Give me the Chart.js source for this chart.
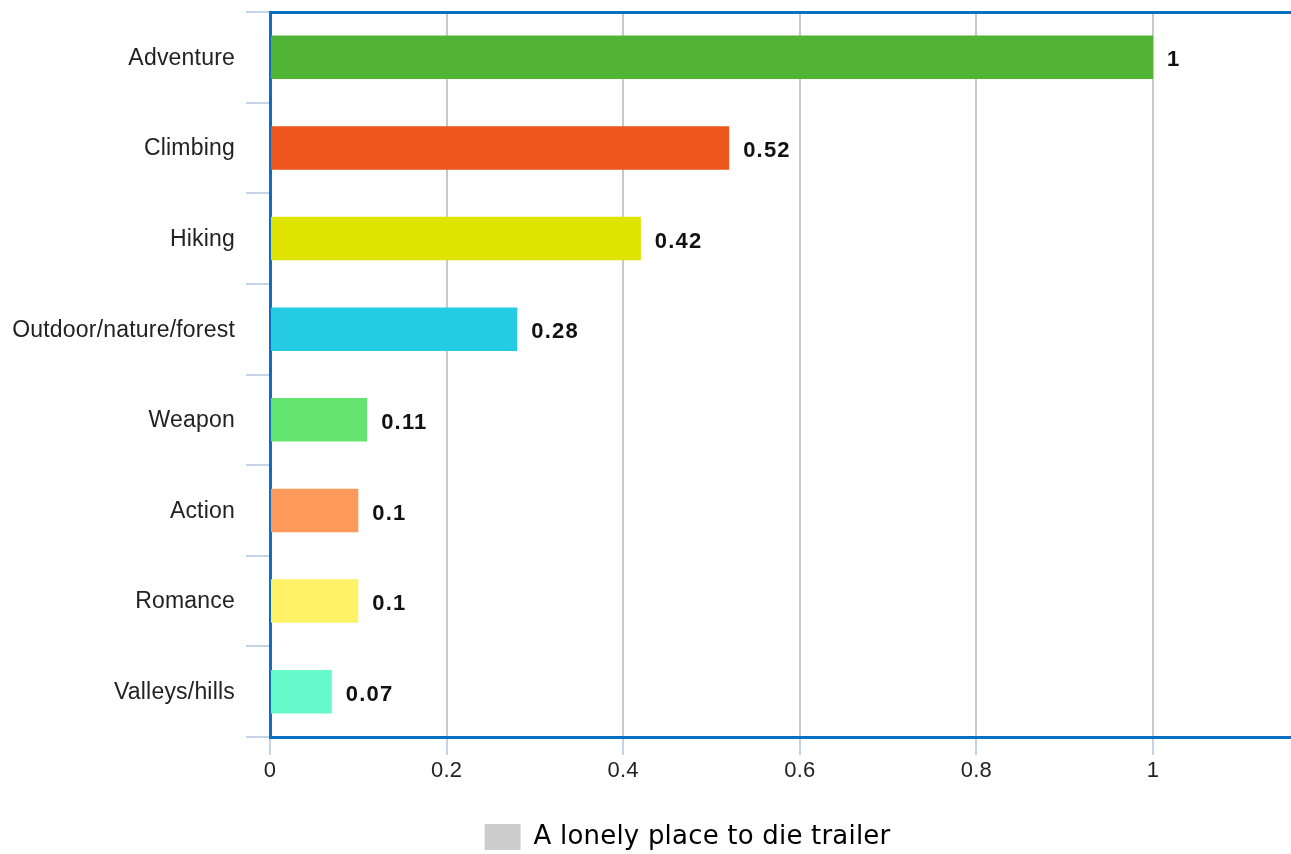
<!DOCTYPE html>
<html>
<head>
<meta charset="utf-8">
<script src="https://cdn.jsdelivr.net/npm/chart.js@4.4.0/dist/chart.umd.min.js"></script>
<style>
  html, body { margin: 0; padding: 0; background: #fff; }
  #wrap { width: 1291px; height: 854px; position: relative; }
</style>
</head>
<body>
<div id="wrap"><canvas id="chart"></canvas></div>
<script>
const categories = ['Adventure', 'Climbing', 'Hiking', 'Outdoor/nature/forest', 'Weapon', 'Action', 'Romance', 'Valleys/hills'];
const values = [1, 0.52, 0.42, 0.28, 0.11, 0.1, 0.1, 0.07];
const barColors = ['#52b434', '#ec561c', '#dfe300', '#25cbe3', '#63e56f', '#ff9a5a', '#fff266', '#66f9c9'];
const seriesName = 'A lonely place to die trailer';
const xMax = 1.1563;

const axisBlue = '#0a70c4';
const tickBlue = '#c5d3e6';
const sans = '"Liberation Sans", Arial, sans-serif';

// the source renders text a touch spread out; the canvas state is reset on resize
// so set it again before layout and before drawing
const spacing = {
  id: 'spacing',
  beforeLayout(chart) { chart.ctx.letterSpacing = '0.2px'; },
  beforeDraw(chart) { chart.ctx.letterSpacing = '0.2px'; }
};

// legend sits a little right of centre and lower in the source
const legendNudge = {
  id: 'legendNudge',
  afterLayout(chart) {
    const lg = chart.legend;
    lg.left += 42; lg.right += 42;
    lg.top += 6; lg.bottom += 6;
  }
};

// write the value next to each bar
const valueLabels = {
  id: 'valueLabels',
  afterDatasetsDraw(chart) {
    const ctx = chart.ctx;
    const meta = chart.getDatasetMeta(0);
    ctx.save();
    ctx.letterSpacing = '1.2px';
    ctx.font = 'bold 22px ' + sans;
    ctx.fillStyle = '#111';
    ctx.textAlign = 'left';
    ctx.textBaseline = 'middle';
    meta.data.forEach((bar, i) => {
      ctx.fillText(String(values[i]), bar.x + 14, bar.y + 3);
    });
    ctx.restore();
  }
};

new Chart(document.getElementById('chart'), {
  type: 'bar',
  data: {
    labels: categories,
    datasets: [{
      label: seriesName,
      data: values,
      backgroundColor: barColors,
      categoryPercentage: 1,
      barPercentage: 0.48
    }]
  },
  plugins: [spacing, legendNudge, valueLabels],
  options: {
    indexAxis: 'y',
    responsive: true,
    maintainAspectRatio: false,
    animation: false,
    layout: { padding: 0 },
    scales: {
      x: {
        min: 0,
        max: xMax,
        afterFit: (scale) => { scale.height = 77; },
        ticks: {
          stepSize: 0.2,
          includeBounds: false,
          color: '#222',
          font: { family: sans, size: 22 },
          padding: 3,
          callback: (v) => String(Number(v.toFixed(1)))
        },
        grid: {
          color: '#c8c8c8',
          lineWidth: 2,
          tickColor: tickBlue,
          tickLength: 18
        },
        border: { color: axisBlue, width: 3 }
      },
      xTop: {
        position: 'top',
        min: 0,
        max: xMax,
        afterFit: (scale) => { scale.height = 12; },
        ticks: { display: false },
        grid: { display: false, drawTicks: false },
        border: { color: axisBlue, width: 3 }
      },
      y: {
        afterFit: (scale) => {
          scale.width = 270;
          scale.paddingTop = 0;
          scale.paddingBottom = 0;
        },
        ticks: {
          color: '#222',
          font: { family: sans, size: 23 },
          padding: 11,
          labelOffset: 1
        },
        grid: {
          offset: true,
          drawOnChartArea: false,
          color: tickBlue,
          tickColor: tickBlue,
          lineWidth: 2,
          tickLength: 24
        },
        border: { color: axisBlue, width: 3 }
      }
    },
    plugins: {
      tooltip: { enabled: false },
      legend: {
        position: 'bottom',
        labels: {
          boxWidth: 36,
          boxHeight: 26,
          padding: 4,
          color: '#333',
          font: { family: '"DejaVu Sans", sans-serif', size: 26 },
          generateLabels: () => [{
            text: seriesName,
            fillStyle: '#cccccc',
            strokeStyle: '#cccccc',
            lineWidth: 0,
            datasetIndex: 0
          }]
        }
      }
    }
  }
});
</script>
</body>
</html>
